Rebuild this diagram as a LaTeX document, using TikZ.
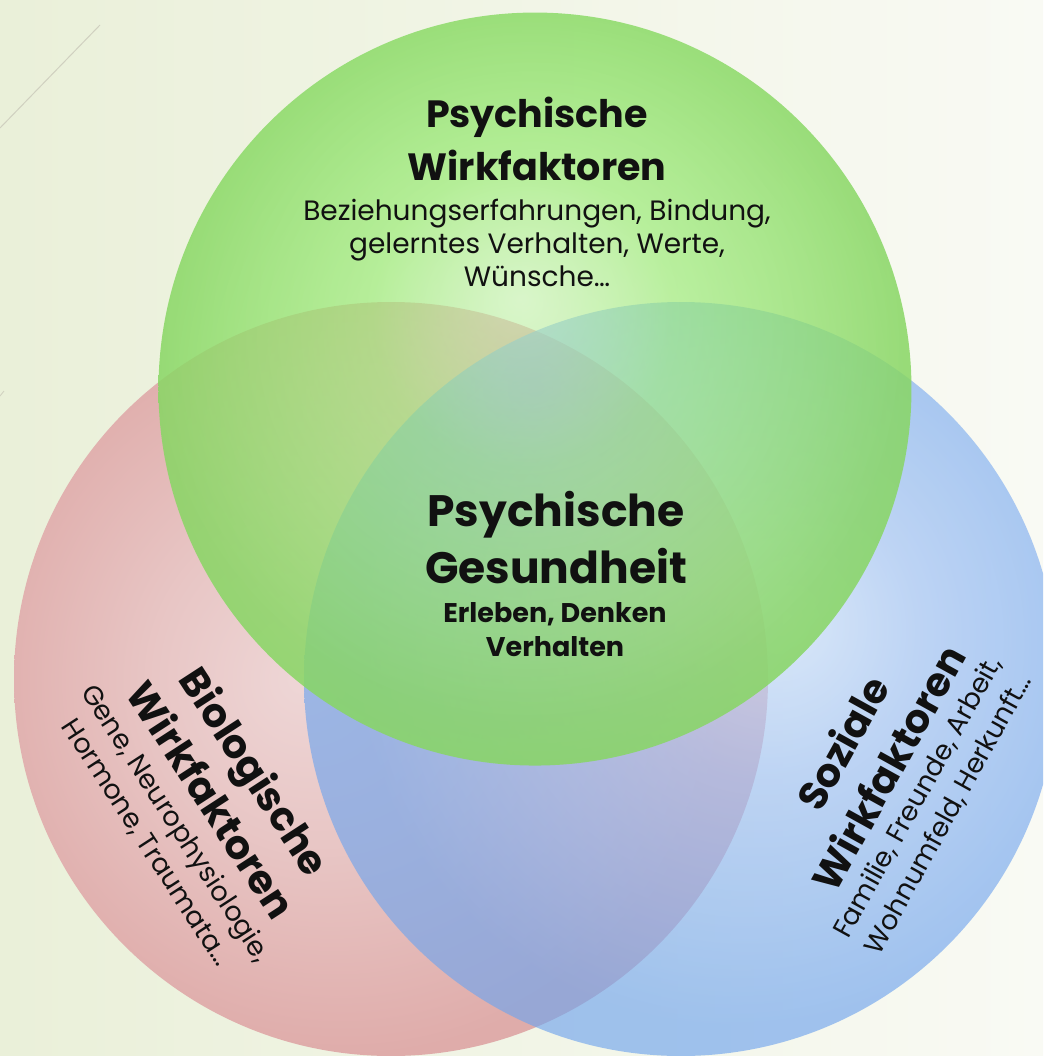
\documentclass[tikz,border=0pt]{standalone}
\usepackage{fontspec}
\setmainfont{Poppins}
\usetikzlibrary{fadings}

\definecolor{bgL}{RGB}{234,240,217}
\definecolor{bgR}{RGB}{249,250,244}
\definecolor{gEdge}{RGB}{136,214,100}
\definecolor{gMid}{RGB}{156,236,120}
\definecolor{gLight}{RGB}{200,246,182}
\definecolor{rEdge}{RGB}{223,172,170}
\definecolor{rLight}{RGB}{238,214,214}
\definecolor{rMid}{RGB}{232,198,197}
\definecolor{bEdge}{RGB}{113,165,237}
\definecolor{bLight}{RGB}{202,223,255}
\definecolor{bMid}{RGB}{159,193,247}
\definecolor{lineC}{RGB}{208,208,192}
\definecolor{txt}{RGB}{17,17,17}

\pgfdeclareradialshading{redshade}{\pgfpoint{-6bp}{0bp}}{color(0bp)=(rLight); color(11bp)=(rMid); color(25bp)=(rEdge); color(50bp)=(rEdge)}
\pgfdeclareradialshading{blueshade}{\pgfpoint{7bp}{4bp}}{color(0bp)=(bLight); color(10bp)=(bMid); color(25bp)=(bEdge); color(50bp)=(bEdge)}
\pgfdeclareradialshading{greenshade}{\pgfpoint{-1bp}{6bp}}{color(0bp)=(gLight); color(10bp)=(gMid); color(25bp)=(gEdge); color(50bp)=(gEdge)}
\pgfdeclareradialshading{gfadesh}{\pgfpointorigin}{color(0bp)=(pgftransparent!50); color(25bp)=(pgftransparent!14); color(50bp)=(pgftransparent!14)}
\pgfdeclarefading{greenfade}{\pgfuseshading{gfadesh}}

\tikzset{
  ttl/.style={font=\fontsize{38}{53}\selectfont\bfseries, align=center, text=txt, inner sep=0pt},
  stl/.style={font=\fontsize{40}{52}\selectfont\bfseries, align=center, text=txt, inner sep=0pt},
  ctl/.style={font=\fontsize{44}{57}\selectfont\bfseries, align=center, text=txt, inner sep=0pt},
  csub/.style={font=\fontsize{27}{34}\selectfont\bfseries, align=center, text=txt, inner sep=0pt},
  bod/.style={font=\fontsize{28}{33}\selectfont, align=center, text=txt, inner sep=0pt},
  sbod/.style={font=\fontsize{27}{35}\selectfont, align=center, text=txt, inner sep=0pt}
}

\begin{document}
\begin{tikzpicture}[x=1pt,y=-1pt]
\useasboundingbox (0,0) rectangle (1043,1056);
\clip (0,0) rectangle (1043,1056);
\shade[left color=bgL, right color=bgR] (0,0) rectangle (1043,1056);
\draw[lineC, line width=1pt] (100,25) -- (0,128);
\draw[lineC, line width=0.8pt] (0,396) -- (4,391);

% circles
\shade[shading=redshade] (391,679) circle[radius=377];
\shade[shading=blueshade, opacity=0.65] (681,679) circle[radius=377];
\shade[shading=greenshade, path fading=greenfade] (536,388) circle[radius=377];

% texts
\node[ttl] (psyT) at (537,139) {Psychische\\Wirkfaktoren};
\node[bod] (psyB) at (537,243) {Beziehungserfahrungen, Bindung,\\gelerntes Verhalten, Werte,\\Wünsche…};
\node[ctl] (gesT) at (556,538) {Psychische\\Gesundheit};
\node[csub] (gesB) at (555,630) {Erleben, Denken\\Verhalten};
\node[stl, rotate=-57] (bioT) at (234,785) {Biologische\\Wirkfaktoren};
\node[sbod, rotate=-57] (bioB) at (161,833) {Gene, Neurophysiologie,\\Hormone, Traumata…};
\node[stl, rotate=61] (sozT) at (865,755) {Soziale\\Wirkfaktoren};
\node[sbod, rotate=61] (sozB) at (933,806) {Familie, Freunde, Arbeit,\\Wohnumfeld, Herkunft…};
\end{tikzpicture}
\end{document}
